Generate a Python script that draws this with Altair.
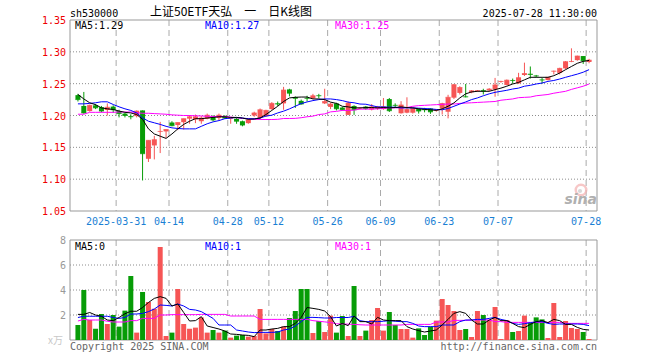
import altair as alt
import pandas as pd

# ---------------- data ----------------
dates = ["03-20","03-21","03-24","03-25","03-26","03-27","03-28",
         "03-31","04-01","04-02","04-03","04-07","04-08","04-09","04-10","04-11",
         "04-14","04-15","04-16","04-17","04-18","04-21","04-22","04-23","04-24","04-25",
         "04-28","04-29","04-30","05-06","05-07","05-08","05-09",
         "05-12","05-13","05-14","05-15","05-16","05-19","05-20","05-21","05-22","05-23",
         "05-26","05-27","05-28","05-29","05-30","06-03","06-04","06-05","06-06",
         "06-09","06-10","06-11","06-12","06-13","06-16","06-17","06-18","06-19","06-20",
         "06-23","06-24","06-25","06-26","06-27","06-30","07-01","07-02","07-03","07-04",
         "07-07","07-08","07-09","07-10","07-11","07-14","07-15","07-16","07-17","07-18",
         "07-21","07-22","07-23","07-24","07-25","07-28"]

opens = [1.232,1.215,1.207,1.216,1.213,1.2086,1.214,1.207,1.203,1.199,
         1.199,1.208,1.132,1.153,1.1745,1.175,1.189,1.185,1.1895,1.195,
         1.194,1.191,1.195,1.198,1.196,1.199,1.195,1.195,1.191,1.188,
         1.200,1.196,1.199,1.210,1.219,1.219,1.241,1.229,1.223,1.2275,
         1.227,1.2315,1.219,1.2135,1.219,1.2125,1.2010,1.215,1.2112,1.2140,
         1.2095,1.211,1.2100,1.2258,1.2165,1.2035,1.2044,1.2044,1.2105,1.2095,
         1.211,1.208,1.2109,1.2059,1.228,1.2355,1.2297,1.2365,1.2385,1.2395,
         1.2395,1.241,1.2528,1.248,1.2555,1.2506,1.2636,1.2655,1.2625,1.2562,
         1.2557,1.2692,1.267,1.274,1.2843,1.287,1.2934,1.284]
closes = [1.225,1.204,1.216,1.212,1.207,1.213,1.209,1.203,1.200,1.198,
          1.207,1.140,1.161,1.162,1.175,1.178,1.184,1.189,1.195,1.198,
          1.198,1.196,1.2005,1.193,1.2005,1.196,1.196,1.191,1.185,1.193,
          1.204,1.209,1.208,1.219,1.218,1.240,1.235,1.227,1.218,1.227,
          1.231,1.231,1.222,1.218,1.2105,1.209,1.2195,1.209,1.2118,1.2110,
          1.2135,1.2135,1.2135,1.2075,1.216,1.2165,1.2097,1.2113,1.207,1.209,
          1.2057,1.2085,1.2187,1.2286,1.2484,1.244,1.2292,1.2388,1.239,1.2385,
          1.2415,1.248,1.2535,1.2555,1.255,1.2594,1.266,1.2645,1.262,1.2557,
          1.260,1.2697,1.274,1.2845,1.2848,1.2934,1.286,1.287]
highs = [1.234,1.237,1.217,1.218,1.215,1.219,1.216,1.209,1.204,1.202,
         1.208,1.208,1.161,1.168,1.190,1.178,1.191,1.189,1.195,1.2005,
         1.2015,1.199,1.203,1.2005,1.203,1.2005,1.197,1.197,1.192,1.195,
         1.206,1.211,1.209,1.221,1.222,1.245,1.242,1.230,1.225,1.231,
         1.234,1.234,1.242,1.220,1.220,1.2135,1.222,1.216,1.213,1.215,
         1.218,1.215,1.2275,1.2275,1.219,1.2225,1.2286,1.212,1.211,1.212,
         1.2115,1.210,1.220,1.2325,1.2495,1.246,1.2495,1.240,1.240,1.242,
         1.243,1.259,1.2545,1.2565,1.258,1.267,1.283,1.277,1.2637,1.259,
         1.2605,1.2705,1.275,1.2855,1.3055,1.294,1.2934,1.289]
lows = [1.222,1.203,1.206,1.210,1.205,1.200,1.204,1.197,1.197,1.194,
        1.197,1.098,1.127,1.131,1.141,1.165,1.183,1.177,1.178,1.187,
        1.188,1.187,1.194,1.191,1.192,1.195,1.187,1.187,1.183,1.187,
        1.198,1.194,1.198,1.209,1.215,1.209,1.230,1.212,1.217,1.222,
        1.226,1.227,1.218,1.210,1.208,1.208,1.201,1.201,1.210,1.209,
        1.208,1.209,1.209,1.2055,1.2125,1.2030,1.2035,1.203,1.203,1.205,
        1.2026,1.206,1.2015,1.1955,1.226,1.233,1.2285,1.235,1.237,1.233,
        1.238,1.2295,1.2515,1.2475,1.250,1.2495,1.262,1.258,1.2597,1.250,
        1.255,1.2645,1.2645,1.273,1.2838,1.286,1.281,1.282]

ma5 = [1.233,1.226,1.220,1.217,1.212,1.2105,1.2095,1.207,1.205,1.204,
       1.2015,1.194,1.179,1.171,1.1675,1.164,1.171,1.179,1.186,1.191,
       1.195,1.195,1.196,1.197,1.198,1.198,1.197,1.197,1.196,1.194,
       1.1945,1.196,1.2015,1.208,1.2145,1.222,1.2276,1.2286,1.229,1.229,
       1.226,1.226,1.225,1.221,1.219,1.2145,1.2135,1.212,1.212,1.2125,
       1.2125,1.212,1.2125,1.212,1.2125,1.2135,1.2125,1.212,1.2105,1.2095,
       1.209,1.208,1.2105,1.2145,1.2198,1.2276,1.234,1.237,1.238,1.238,
       1.238,1.2406,1.243,1.246,1.2495,1.252,1.256,1.260,1.260,1.260,
       1.260,1.2625,1.2667,1.272,1.277,1.282,1.285,1.2865]
ma10 = [1.2183,1.2183,1.219,1.220,1.2215,1.2215,1.2173,1.2136,1.2105,1.208,
        1.204,1.1963,1.191,1.1885,1.186,1.183,1.1806,1.1796,1.179,1.179,
        1.179,1.183,1.187,1.190,1.192,1.195,1.196,1.197,1.196,1.195,
        1.1948,1.196,1.199,1.2005,1.204,1.2068,1.2104,1.2146,1.2187,1.2213,
        1.2234,1.225,1.226,1.226,1.225,1.2234,1.221,1.220,1.218,1.2177,
        1.2156,1.2135,1.2135,1.213,1.213,1.212,1.212,1.212,1.2115,1.211,
        1.2104,1.2095,1.209,1.211,1.2145,1.218,1.2213,1.225,1.2276,1.231,
        1.234,1.2364,1.238,1.2396,1.2416,1.243,1.246,1.2474,1.2495,1.251,
        1.2536,1.255,1.2573,1.260,1.2625,1.265,1.268,1.272]
ma30 = [1.202,1.202,1.205,1.205,1.205,1.205,1.205,1.2055,1.2055,1.2055,
        1.2045,1.2035,1.2035,1.203,1.2025,1.202,1.201,1.2005,1.200,1.200,
        1.1995,1.1993,1.1988,1.1985,1.1985,1.1985,1.1975,1.1965,1.1955,1.195,
        1.194,1.1938,1.1937,1.1937,1.194,1.1953,1.1953,1.1955,1.1965,1.198,
        1.199,1.2015,1.2025,1.2057,1.2065,1.208,1.208,1.2085,1.210,1.210,
        1.210,1.2105,1.211,1.212,1.212,1.212,1.2125,1.2145,1.2155,1.216,
        1.2165,1.217,1.2175,1.218,1.218,1.219,1.2195,1.220,1.2205,1.221,
        1.2215,1.222,1.224,1.225,1.226,1.228,1.2285,1.229,1.231,1.232,
        1.233,1.235,1.2365,1.238,1.241,1.2435,1.246,1.2495]

vols = [1.2,4.0,1.6,0.9,2.08,1.28,2.0,1.07,2.35,5.12,
        0.59,3.84,3.04,2.5,7.44,0.32,0.59,4.08,1.28,0.9,
        0.99,1.8,0.59,0.8,0.59,0.75,0.19,0.35,0.4,0.27,
        0.32,2.48,0.53,0.88,0.72,1.07,1.76,2.32,4.08,4.08,
        0.56,1.52,0.64,1.95,0.59,1.92,0.32,4.32,0.32,0.75,
        1.6,2.56,0.75,2.24,1.2,0.88,0.88,0.19,0.93,0.4,
        1.07,1.55,3.28,2.8,2.32,0.8,0.88,0.24,2.32,2.0,
        1.6,2.64,0.08,1.6,0.64,0.72,1.95,1.39,1.81,1.65,
        0.16,2.96,0.24,1.52,0.96,0.88,0.64,0.08]
vma5 = [2.05,2.05,2.2,2.0,1.9,1.6,1.55,1.8,2.1,2.3,
        2.3,2.6,3.0,3.33,3.47,3.33,2.72,2.88,2.2,1.52,
        1.55,1.87,1.12,1.0,0.88,0.72,0.48,0.45,0.4,0.37,
        0.27,0.8,0.8,0.88,0.93,1.07,1.07,1.33,1.81,2.6,
        2.53,2.45,2.32,1.87,1.12,1.33,1.15,1.92,1.47,1.47,
        1.28,1.81,1.6,1.55,1.55,1.55,1.07,0.88,0.75,0.64,
        0.72,0.8,1.2,1.65,2.13,2.27,2.13,1.6,1.28,1.28,
        1.6,1.81,1.55,1.55,1.33,1.07,0.99,1.25,1.47,1.55,
        1.39,1.65,1.55,1.25,1.25,1.01,0.85,0.8]
vma10 = [1.8,1.9,1.9,1.9,1.9,1.9,1.8,1.73,1.8,2.08,
         2.08,2.13,2.27,2.48,2.8,2.77,2.72,2.88,2.72,2.45,
         2.4,2.27,2.0,1.73,1.2,1.2,1.2,0.8,0.72,0.64,
         0.59,0.61,0.61,0.61,0.64,0.8,0.88,1.12,1.47,1.81,
         1.81,1.79,1.76,1.76,1.8,1.8,1.8,1.9,1.55,1.47,
         1.47,1.47,1.5,1.55,1.5,1.47,1.47,1.33,1.12,1.07,
         1.07,1.07,1.2,1.2,1.2,1.47,1.6,1.6,1.65,1.65,
         1.73,1.81,1.65,1.55,1.33,1.25,1.3,1.39,1.45,1.47,
         1.33,1.25,1.28,1.28,1.28,1.28,1.25,1.15]
vma30 = [1.52,1.65,1.6,1.6,1.6,1.5,1.44,1.44,1.44,1.55,
         1.55,1.73,1.73,1.73,2.0,2.0,2.03,2.03,2.03,2.03,
         2.03,2.05,2.05,2.05,2.05,2.05,1.92,1.92,1.92,1.92,
         1.92,1.65,1.65,1.65,1.65,1.65,1.65,1.65,1.65,1.65,
         1.55,1.5,1.45,1.4,1.3,1.28,1.27,1.25,1.22,1.2,
         1.2,1.2,1.2,1.2,1.2,1.2,1.25,1.25,1.25,1.25,
         1.25,1.44,1.44,1.44,1.57,1.57,1.57,1.6,1.6,1.6,
         1.6,1.47,1.47,1.41,1.41,1.41,1.41,1.41,1.41,1.41,
         1.41,1.41,1.41,1.33,1.33,1.33,1.33,1.33]

price_ticks = [1.35, 1.30, 1.25, 1.20, 1.15, 1.10, 1.05]
price_grid = [1.30, 1.25, 1.20, 1.15, 1.10]
vol_ticks = [8, 6, 4, 2]
vol_grid = [6, 4, 2]
tick_dates = ["03-31","04-14","04-28","05-12","05-26","06-09","06-23","07-07","07-28"]
tick_labels = ["2025-03-31","04-14","04-28","05-12","05-26","06-09","06-23","07-07","07-28"]

# ---------------- styling ----------------
RED = "#f65555"
GREEN = "#079c07"
MONO = "DejaVu Sans Mono"
W, H = 527, 320
PH = 191
VT, VB = 220, 320
N = len(dates)

df = pd.DataFrame({"i": range(N), "date": dates, "o": opens, "h": highs, "l": lows,
                   "c": closes, "v": vols, "ma5": ma5, "ma10": ma10, "ma30": ma30,
                   "vma5": vma5, "vma10": vma10, "vma30": vma30})
df["x"] = df["i"] + 0.5
df["dir"] = ["up" if c >= o else "down" for o, c in zip(opens, closes)]
df["blo"] = df[["o", "c"]].min(axis=1)
df["bhi"] = df[["o", "c"]].max(axis=1)
df["v0"] = 0.0

xs = alt.Scale(domain=[0, N], nice=False, zero=False)


def X(f):
    return alt.X(f"{f}:Q", scale=xs, axis=None)


def YP(f):
    return alt.Y(f"{f}:Q", scale=alt.Scale(domain=[1.05, 1.35], range=[PH, 0], nice=False, zero=False), axis=None)


def YV(f):
    return alt.Y(f"{f}:Q", scale=alt.Scale(domain=[0, 8], range=[VB, VT], nice=False, zero=False), axis=None)


cdir = alt.Color("dir:N", scale=alt.Scale(domain=["up", "down"], range=[RED, GREEN]), legend=None)
one = pd.DataFrame({"k": [0]})
base = alt.Chart(df)

layers = []

# horizontal dotted grids
layers.append(alt.Chart(pd.DataFrame({"p": price_grid})).mark_rule(color="#8c8c8c", strokeDash=[1, 2], strokeWidth=1)
              .encode(y=YP("p"), x=alt.value(0), x2=alt.value(W)))
layers.append(alt.Chart(pd.DataFrame({"p": vol_grid})).mark_rule(color="#8c8c8c", strokeDash=[1, 2], strokeWidth=1)
              .encode(y=YV("p"), x=alt.value(0), x2=alt.value(W)))

# vertical dashed grids
gdf = pd.DataFrame({"gx": [dates.index(d) for d in tick_dates], "lab": tick_labels})
layers.append(alt.Chart(gdf).mark_rule(color="#aaaaaa", strokeDash=[6, 4], strokeWidth=1)
              .encode(x=X("gx"), y=alt.value(0), y2=alt.value(PH)))
layers.append(alt.Chart(gdf).mark_rule(color="#aaaaaa", strokeDash=[6, 4], strokeWidth=1)
              .encode(x=X("gx"), y=alt.value(VT), y2=alt.value(VB)))

# sina watermark
layers.append(alt.Chart(one).mark_point(filled=False, color="#f4b0b0", strokeWidth=2.5, size=110)
              .encode(x=alt.value(511), y=alt.value(170)))
layers.append(alt.Chart(one).mark_point(filled=True, color="#c8c8c8", size=18)
              .encode(x=alt.value(510), y=alt.value(171)))

# frames
layers.append(alt.Chart(one).mark_rect(fillOpacity=0, stroke="#999999", strokeWidth=1)
              .encode(x=alt.value(0), x2=alt.value(W), y=alt.value(0), y2=alt.value(PH)))
layers.append(alt.Chart(one).mark_rect(fillOpacity=0, stroke="#999999", strokeWidth=1)
              .encode(x=alt.value(0), x2=alt.value(W), y=alt.value(VT), y2=alt.value(VB)))

# candles
layers.append(base.mark_rule(strokeWidth=1).encode(x=X("x"), y=YP("l"), y2="h", color=cdir))
layers.append(base.mark_tick(orient="horizontal", size=5, thickness=1).encode(x=X("x"), y=YP("c"), color=cdir))
layers.append(base.mark_bar(size=5).encode(x=X("x"), y=YP("blo"), y2="bhi", color=cdir))

# price MAs
layers.append(base.mark_line(color="#ff00ff", strokeWidth=1).encode(x=X("x"), y=YP("ma30")))
layers.append(base.mark_line(color="#0000ff", strokeWidth=1).encode(x=X("x"), y=YP("ma10")))
layers.append(base.mark_line(color="#000000", strokeWidth=1).encode(x=X("x"), y=YP("ma5")))

# volume
layers.append(base.mark_bar(size=5).encode(x=X("x"), y=YV("v"), y2="v0", color=cdir))
layers.append(base.mark_line(color="#ff00ff", strokeWidth=1).encode(x=X("x"), y=YV("vma30")))
layers.append(base.mark_line(color="#0000ff", strokeWidth=1).encode(x=X("x"), y=YV("vma10")))
layers.append(base.mark_line(color="#000000", strokeWidth=1).encode(x=X("x"), y=YV("vma5")))

# axis labels
pt = pd.DataFrame({"p": price_ticks, "t": [f"{p:.2f}" for p in price_ticks]})
layers.append(alt.Chart(pt).mark_text(align="right", baseline="middle", font=MONO, fontSize=10, color="#ee0000", dy=1)
              .encode(x=alt.value(-4), y=YP("p"), text="t:N"))
vt = pd.DataFrame({"p": vol_ticks, "t": [str(v) for v in vol_ticks]})
layers.append(alt.Chart(vt).mark_text(align="right", baseline="middle", font=MONO, fontSize=10, color="#999999", dy=1)
              .encode(x=alt.value(-4), y=YV("p"), text="t:N"))
layers.append(alt.Chart(gdf).mark_text(align="center", baseline="alphabetic", font=MONO, fontSize=10, color="#1a7fd4")
              .encode(x=X("gx"), y=alt.value(205), text="lab:N"))


def txt(s, x, y, color="#000000", align="left", size=10, font=MONO, **kw):
    return alt.Chart(one).mark_text(text=s, align=align, baseline="alphabetic", font=font,
                                    fontSize=size, color=color, **kw).encode(x=alt.value(x), y=alt.value(y))


layers += [
    txt("sh530000", 0, -3),
    txt("上证50ETF天弘　一　日K线图", 161, -4, align="center", size=12, font="Noto Sans CJK SC"),
    txt("2025-07-28 11:30:00", W, -3, align="right"),
    txt("MA5:1.29", 5, 9),
    txt("MA10:1.27", 135, 9, color="#0000ff"),
    txt("MA30:1.25", 265, 9, color="#ff00ff"),
    txt("MA5:0", 5, 230),
    txt("MA10:1", 135, 230, color="#0000ff"),
    txt("MA30:1", 265, 230, color="#ff00ff"),
    txt("x万", -7, 324, color="#c8c8c8", align="right", size=10, font="Noto Sans CJK SC"),
    txt("Copyright 2025 SINA.COM", 0, 330, color="#666666"),
    txt("http://finance.sina.com.cn", W, 330, color="#666666", align="right"),
    txt("sina", W, 184, color="#b0b0b0", align="right", size=14, font="DejaVu Sans", fontWeight="bold", fontStyle="italic"),
]

chart = (alt.layer(*layers)
         .resolve_scale(y="independent")
         .properties(width=W, height=H,
                     autosize=alt.AutoSizeParams(type="none"),
                     padding={"left": 70, "top": 20, "right": 63, "bottom": 20})
         .configure_view(stroke=None))

chart.save("out.html", embed_options={"renderer": "svg", "actions": False})
